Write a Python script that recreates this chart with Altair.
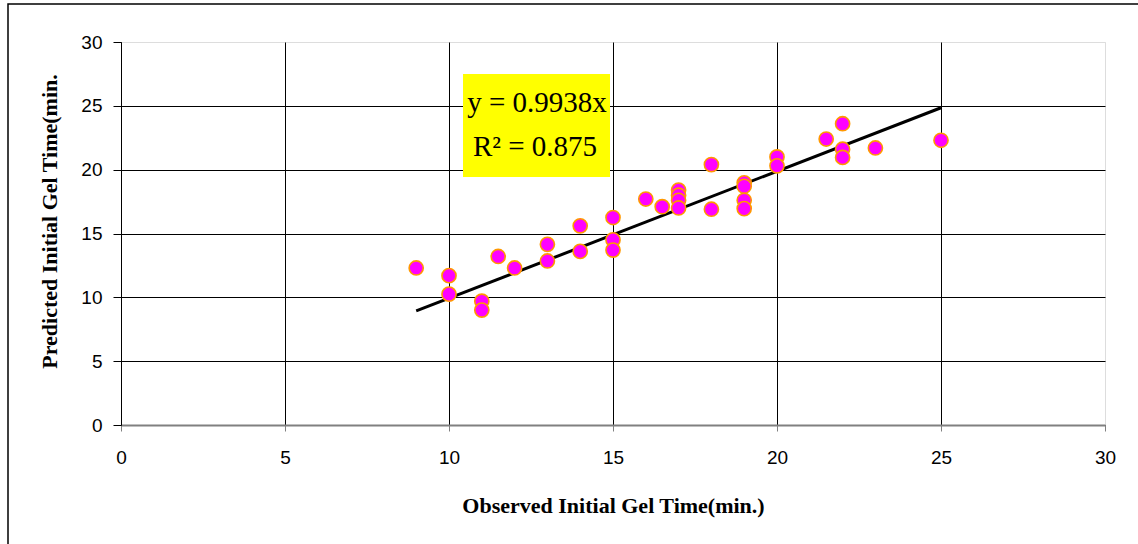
import altair as alt
import pandas as pd

observed = [9, 10, 10, 11, 11, 11.5, 12, 13, 13, 14, 14, 15, 15, 15, 16, 16.5,
            17, 17, 17, 17, 18, 18, 19, 19, 19, 19, 20, 20, 21.5, 22, 22, 22, 23, 25]
predicted = [12.3, 11.7, 10.25, 9.7, 9.0, 13.2, 12.3, 14.15, 12.85, 15.6, 13.6, 16.25, 14.5, 13.7, 17.7, 17.1,
             18.4, 18.0, 17.6, 17.0, 20.4, 16.9, 18.97, 18.7, 17.6, 16.95, 21.0, 20.3, 22.4, 23.6, 21.6, 20.96, 21.7, 22.3]

trend_x = [9, 25]
trend_y = [8.94, 24.85]

eq_lines = ["y = 0.9938x", "R² = 0.875"]

pts = pd.DataFrame({"obs": observed, "pred": predicted})
trend = pd.DataFrame({"obs": trend_x, "pred": trend_y})

W, H = 984, 383

xscale = alt.Scale(domain=[0, 30], nice=False, zero=True)
yscale = alt.Scale(domain=[0, 30], nice=False, zero=True)

xaxis = alt.Axis(
    title="Observed Initial Gel Time(min.)",
    values=[0, 5, 10, 15, 20, 25, 30],
    grid=True,
    gridColor={"condition": {"test": "datum.value == 30", "value": "#dddddd"}, "value": "#000000"},
    gridWidth=1,
    domainColor="#808080", domainWidth=2,
    tickColor="#808080", tickSize=6, tickWidth=1,
    labelFont="Liberation Sans", labelFontSize=19, labelColor="#000000", labelPadding=17,
    labelFlush=False, labelOverlap=False,
    titleFont="Liberation Serif", titleFontSize=22, titleFontWeight="bold", titleColor="#000000",
    titleY=80, titleBaseline="middle",
)
yaxis = alt.Axis(
    title="Predicted Initial Gel Time(min.",
    values=[0, 5, 10, 15, 20, 25, 30],
    grid=True,
    gridOpacity={"condition": {"test": "datum.value == 30", "value": 0}, "value": 1},
    gridColor="#000000", gridWidth=1,
    domainColor="#000000", domainWidth=1,
    tickColor="#000000", tickSize=8, tickWidth=1,
    labelFont="Liberation Sans", labelFontSize=19, labelColor="#000000", labelPadding=11,
    labelFlush=False, labelOverlap=False,
    titleFont="Liberation Serif", titleFontSize=22, titleFontWeight="bold", titleColor="#000000",
    titleX=-72, titleY=179, titleBaseline="middle", titleAngle=-90,
)

base_pts = alt.Chart(pts).mark_circle(
    size=200, color="#FF00FF", opacity=1, stroke="#FF9900", strokeWidth=1.6
).encode(
    x=alt.X("obs:Q", scale=xscale, axis=xaxis),
    y=alt.Y("pred:Q", scale=yscale, axis=yaxis),
)

line = alt.Chart(trend).mark_line(color="#000000", strokeWidth=3).encode(
    x=alt.X("obs:Q", scale=xscale),
    y=alt.Y("pred:Q", scale=yscale),
)

one = pd.DataFrame({"a": [0]})

box = alt.Chart(one).mark_rect(color="#FFFF00").encode(
    x=alt.value(342), x2=alt.value(489), y=alt.value(32), y2=alt.value(135)
)

txt1 = alt.Chart(one).mark_text(
    font="Liberation Serif", fontSize=29, color="#000000", align="center", baseline="middle",
    text=eq_lines[0]
).encode(x=alt.value(416), y=alt.value(61))

txt2 = alt.Chart(one).mark_text(
    font="Liberation Serif", fontSize=29, color="#000000", align="center", baseline="middle",
    text=eq_lines[1]
).encode(x=alt.value(414), y=alt.value(105))

frame = alt.Chart(one).mark_rect(
    fill=None, stroke="#000000", strokeWidth=1.5
).encode(
    x=alt.value(-113), x2=alt.value(1030), y=alt.value(-38), y2=alt.value(520)
)

chart = alt.layer(frame, line, base_pts, box, txt1, txt2).properties(
    width=W, height=H,
    autosize=alt.AutoSizeParams(type="none"),
    padding={"left": 121, "top": 42, "right": 33, "bottom": 119},
).configure_view(stroke=None).configure(background="#ffffff")

chart.save("out.html", embed_options={"renderer": "svg", "actions": False})
